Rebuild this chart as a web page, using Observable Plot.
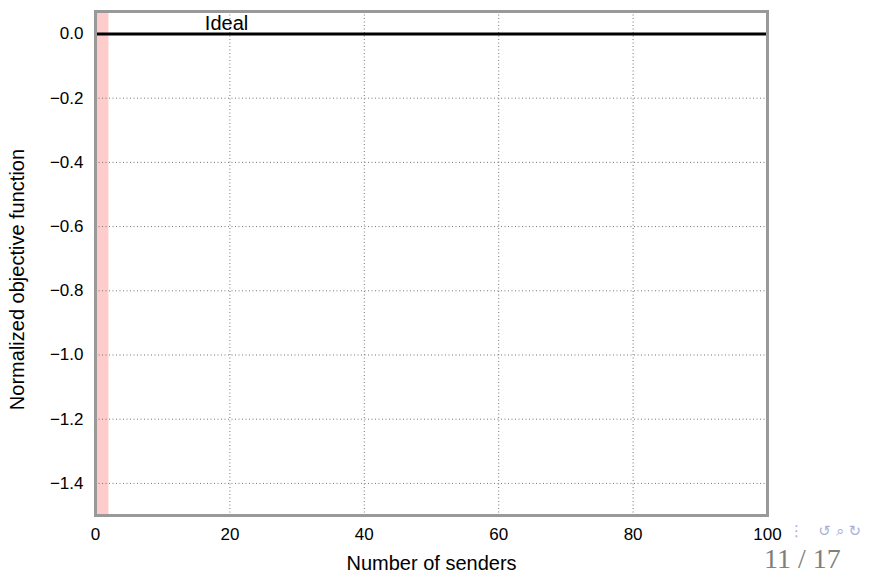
<!DOCTYPE html>
<html><head><meta charset="utf-8">
<script src="https://cdn.jsdelivr.net/npm/d3@7"></script>
<script src="https://cdn.jsdelivr.net/npm/@observablehq/plot@0.6"></script>
<style>
body{margin:0;background:#fff;}
#wrap{position:relative;width:871px;height:574px;overflow:hidden;}
#page{position:absolute;left:764px;top:549px;font-family:"Liberation Serif","DejaVu Serif",serif;font-size:28px;line-height:20px;color:#7f7f7f;white-space:pre;}
#nav{position:absolute;left:789px;top:525px;font-family:"DejaVu Sans",sans-serif;font-size:15px;line-height:12px;color:#aab0d8;white-space:pre;}
</style></head><body><div id="wrap"></div>
<script>
const senders = [0, 100];
const idealValues = [0, 0];
const bandRange = [0, 2];
const xTicks = [0, 20, 40, 60, 80, 100];
const yTicks = [-1.4, -1.2, -1.0, -0.8, -0.6, -0.4, -0.2, 0.0];
const annotationText = ["Ideal"];
const annotationX = [19.5];
const annotationY = [0];
const xLabel = "Number of senders";
const yLabel = "Normalized objective function";
const pageLabel = "11 / 17";

const lineData = senders.map((s, i) => ({s, v: idealValues[i]}));
const bandData = [{x1: bandRange[0], x2: bandRange[1]}];
const annData = annotationText.map((t, i) => ({t, x: annotationX[i], y: annotationY[i]}));

const chart = Plot.plot({
  width: 871,
  height: 574,
  marginLeft: 95,
  marginRight: 104,
  marginTop: 11,
  marginBottom: 59,
  style: {fontFamily: "'Liberation Sans', Arial, Helvetica, sans-serif", fontSize: "17px", background: "white", color: "black"},
  x: {domain: [0, 100]},
  y: {domain: [-1.5, 0.07]},
  marks: [
    Plot.rect(bandData, {x1: "x1", x2: "x2", fill: "#ffcccc"}),
    Plot.gridX({ticks: xTicks.filter(t => t > 0 && t < 100), stroke: "#666", strokeOpacity: 0.9, strokeDasharray: "1,2.5"}),
    Plot.gridY({ticks: yTicks.filter(t => t < 0), stroke: "#666", strokeOpacity: 0.9, strokeDasharray: "1,2.5"}),
    Plot.line(lineData, {x: "s", y: "v", stroke: "black", strokeWidth: 3}),
    Plot.frame({stroke: "#999", strokeWidth: 3}),
    Plot.axisX({ticks: xTicks, tickSize: 0, tickPadding: 12, label: null, fontSize: 17, tickFormat: d3.format("d")}),
    Plot.axisY({ticks: yTicks, tickSize: 0, tickPadding: 12, label: null, fontSize: 17, tickFormat: d3.format(".1f")}),
    Plot.text(annData, {x: "x", y: "y", text: "t", textAnchor: "middle", lineAnchor: "bottom", dy: -4, fontSize: 20}),
    Plot.text([xLabel], {frameAnchor: "bottom", dy: 48, lineAnchor: "middle", fontSize: 20}),
    Plot.text([yLabel], {frameAnchor: "left", rotate: -90, dx: -78, dy: 16, textAnchor: "middle", lineAnchor: "middle", fontSize: 20})
  ]
});
const wrap = document.getElementById("wrap");
wrap.appendChild(chart);
const page = document.createElement("div");
page.id = "page";
page.textContent = pageLabel;
wrap.appendChild(page);
const nav = document.createElement("div");
nav.id = "nav";
nav.innerHTML = "<span>\u22EE</span>&nbsp;&nbsp;&nbsp;<span>\u21BA</span>&nbsp;<span>\u2315</span>&nbsp;<span>\u21BB</span>";
wrap.appendChild(nav);
</script>
</body></html>
